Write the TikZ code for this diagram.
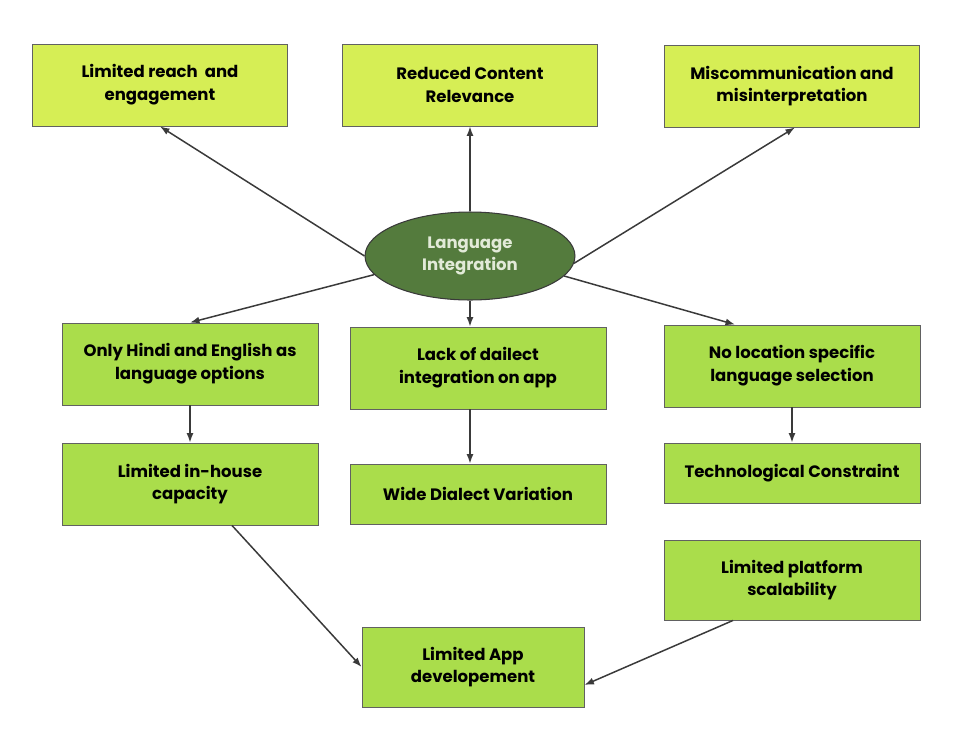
\documentclass[tikz,border=0pt]{standalone}
\usepackage{fontspec}
\setmainfont{Poppins}
\usetikzlibrary{arrows.meta,positioning,calc,shapes.geometric}
\definecolor{liYellow}{HTML}{D6EE55}
\definecolor{liGreen}{HTML}{AADD4B}
\definecolor{liHub}{HTML}{547B3D}
\definecolor{liHubText}{HTML}{E2EAD8}
\definecolor{liLine}{HTML}{3A3A3A}
\tikzset{
  arr/.style={-{Latex[length=1.9mm,width=1.4mm]}, line width=0.85pt, draw=liLine},
  topbox/.style={draw=liLine!80, fill=liYellow, line width=0.5pt, align=center, minimum width=5.1cm, minimum height=1.64cm, inner sep=3pt, font=\fontsize{9.4}{13}\selectfont\bfseries},
  greenbox/.style={draw=liLine!80, fill=liGreen, line width=0.5pt, align=center, minimum width=5.12cm, minimum height=1.64cm, inner sep=3pt, font=\fontsize{9.4}{13}\selectfont\bfseries},
  hub/.style={ellipse, draw=liLine, fill=liHub, line width=0.6pt, align=center, minimum width=4.2cm, minimum height=1.76cm, inner sep=1pt, text=liHubText, font=\fontsize{9.4}{13}\selectfont\bfseries}
}
\begin{document}
\begin{tikzpicture}[x=0.02cm,y=-0.02cm]
  \useasboundingbox (0,0) rectangle (974,748);
  % effects, top row
  \node[topbox] (reach) at (160,85) {Limited reach\ \ and\\engagement};
  \node[topbox] (relevance) at (470,85) {Reduced Content\\Relevance};
  \node[topbox] (miscomm) at (792,86) {Miscommunication and\\misinterpretation};
  % centre
  \node[hub] (lang) at (470,256) {Language\\Integration};
  % causes
  \node[greenbox] (hindi) at (190,364) {Only Hindi and English as\\language options};
  \node[greenbox] (dialect) at (478,368) {Lack of dailect\\integration on app};
  \node[greenbox] (location) at (792,366) {No location specific\\language selection};
  \node[greenbox] (inhouse) at (190,484) {Limited in-house\\capacity};
  \node[greenbox, minimum height=1.2cm] (variation) at (478,494) {Wide Dialect Variation};
  \node[greenbox, minimum height=1.2cm] (techcons) at (792,473) {Technological Constraint};
  \node[greenbox, minimum height=1.6cm] (scal) at (792,580) {Limited platform\\scalability};
  \node[greenbox, minimum width=4.44cm, minimum height=1.6cm] (appdev) at (473,667) {Limited App\\developement};
  % connectors
  \draw[arr] (lang.180) -- (reach.south);
  \draw[arr] (lang.north) -- (relevance.south);
  \draw[arr] (lang.-4) -- ([xshift=0.06cm]miscomm.south);
  \draw[arr] (lang.191) -- (hindi.north);
  \draw[arr] (lang.south) -- (lang.south |- dialect.north);
  \draw[arr] (lang.-12) -- ([xshift=-1.14cm]location.north);
  \draw[arr] (hindi) -- (inhouse);
  \draw[arr] (dialect.south -| lang.south) -- (variation.north -| lang.south);
  \draw[arr] (location) -- (techcons);
  \draw[arr] ([xshift=0.84cm]inhouse.south) -- (appdev.west);
  \draw[arr] ([xshift=-1.18cm]scal.south) -- ([yshift=-0.36cm]appdev.east);
\end{tikzpicture}
\end{document}
